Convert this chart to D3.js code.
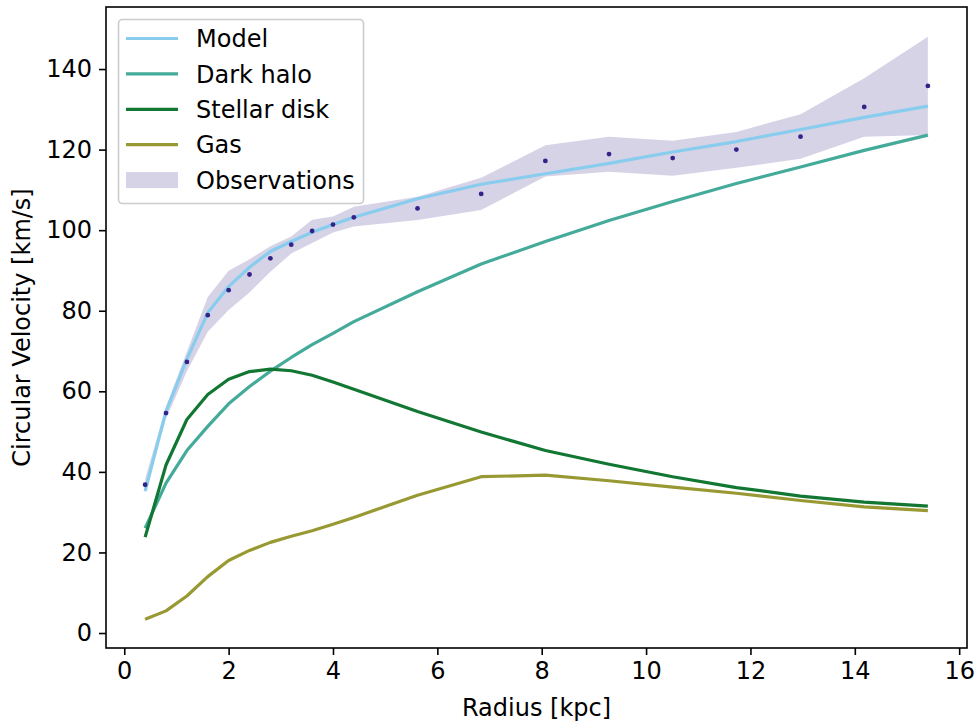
<!DOCTYPE html>
<html>
<head>
<meta charset="utf-8">
<script src="https://cdn.jsdelivr.net/npm/d3@7"></script>
<style>
  html, body { margin: 0; padding: 0; background: #fff; }
  svg { display: block; font-family: "DejaVu Sans", sans-serif; }
</style>
</head>
<body>
<svg id="chart" width="977" height="722"></svg>
<script>
// ---- data ----
const radius   = [0.4, 0.8, 1.2, 1.6, 2.0, 2.4, 2.8, 3.2, 3.6, 4.0, 4.4, 5.62, 6.84, 8.07, 9.29, 10.51, 11.73, 12.96, 14.18, 15.4];
const obsVel   = [36.8, 54.6, 67.3, 78.9, 85.1, 89.0, 93.0, 96.4, 99.8, 101.4, 103.2, 105.4, 109.0, 117.2, 118.9, 117.9, 120.0, 123.2, 130.6, 135.8];
const obsUpper = [38.3, 56.2, 69.8, 83.4, 89.9, 92.8, 96.0, 98.4, 102.6, 103.4, 105.8, 108.3, 113.0, 121.1, 123.2, 122.2, 124.4, 128.8, 137.7, 148.0];
const obsLower = [35.3, 53.2, 65.0, 74.8, 80.2, 84.5, 89.7, 94.2, 96.8, 99.4, 100.9, 102.5, 105.0, 113.3, 114.5, 113.5, 115.5, 117.7, 123.2, 123.6];
const modelVel = [35.2, 55.0, 68.0, 79.5, 86.0, 90.8, 94.7, 97.2, 99.5, 101.4, 103.2, 107.8, 111.4, 114.0, 116.6, 119.4, 122.0, 125.0, 128.0, 130.8];
const haloVel  = [26.0, 37.2, 45.3, 51.3, 56.9, 61.2, 65.0, 68.4, 71.6, 74.4, 77.3, 84.7, 91.6, 97.2, 102.4, 107.1, 111.6, 115.7, 119.8, 123.6];
const diskVel  = [23.8, 41.7, 53.0, 59.2, 63.0, 64.9, 65.5, 65.1, 64.0, 62.3, 60.5, 55.0, 49.9, 45.3, 41.9, 38.8, 36.1, 34.0, 32.5, 31.5];
const gasVel   = [3.4, 5.5, 9.2, 14.0, 18.0, 20.5, 22.5, 24.0, 25.4, 27.0, 28.7, 34.2, 38.8, 39.2, 37.8, 36.2, 34.7, 32.9, 31.3, 30.4];
const xTicks = [0, 2, 4, 6, 8, 10, 12, 14, 16];
const yTicks = [0, 20, 40, 60, 80, 100, 120, 140];
const seriesNames  = ["Model", "Dark halo", "Stellar disk", "Gas", "Observations"];
const seriesColors = ["#88CCEE", "#44AA99", "#117733", "#999933", "#332288"];

// ---- layout ----
const svg = d3.select("#chart");
const L = 106, R = 967, T = 7, B = 648;
const x = d3.scaleLinear().domain([-0.35, 16.15]).range([L, R]);
const y = d3.scaleLinear().domain([-3.72, 155.4]).range([B, T]);
const lw = 3.2;
const FS = "24px";

const rows = radius.map((r, i) => ({r, obs: obsVel[i], hi: obsUpper[i], lo: obsLower[i],
  model: modelVel[i], halo: haloVel[i], disk: diskVel[i], gas: gasVel[i]}));

const plot = svg.append("g");

// band
plot.append("path").datum(rows)
  .attr("d", d3.area().x(d => x(d.r)).y0(d => y(d.lo)).y1(d => y(d.hi)))
  .attr("fill", "#332288").attr("fill-opacity", 0.2);

// lines
[["halo", 1], ["disk", 2], ["gas", 3], ["model", 0]].forEach(([k, ci]) => {
  plot.append("path").datum(rows)
    .attr("d", d3.line().x(d => x(d.r)).y(d => y(d[k])))
    .attr("fill", "none").attr("stroke", seriesColors[ci])
    .attr("stroke-width", lw).attr("stroke-linejoin", "round");
});

// points
plot.selectAll("circle.obs").data(rows).enter().append("circle")
  .attr("cx", d => x(d.r)).attr("cy", d => y(d.obs)).attr("r", 2.4)
  .attr("fill", "#332288");

// axes
const xAxis = d3.axisBottom(x).tickValues(xTicks).tickSize(7).tickPadding(7).tickFormat(d3.format("d"));
const yAxis = d3.axisLeft(y).tickValues(yTicks).tickSize(7).tickPadding(7).tickFormat(d3.format("d"));
const gx = svg.append("g").attr("transform", `translate(0,${B})`).call(xAxis);
const gy = svg.append("g").attr("transform", `translate(${L},0)`).call(yAxis);
[gx, gy].forEach(g => {
  g.select(".domain").remove();
  g.selectAll(".tick line").attr("stroke", "#000").attr("stroke-width", 1.6);
  g.selectAll(".tick text").attr("fill", "#000").style("font-size", FS).style("font-family", "DejaVu Sans");
});
gx.selectAll(".tick text").attr("dy", "0.72em");

// frame
svg.append("rect").attr("x", L).attr("y", T).attr("width", R - L).attr("height", B - T)
  .attr("fill", "none").attr("stroke", "#000").attr("stroke-width", 1.6);

// axis labels
svg.append("text").attr("x", (L + R) / 2).attr("y", 716).attr("text-anchor", "middle")
  .style("font-size", FS).text("Radius [kpc]");
svg.append("text").attr("transform", `translate(30,${(T + B) / 2}) rotate(-90)`)
  .attr("text-anchor", "middle").style("font-size", FS).text("Circular Velocity [km/s]");

// legend
const lg = svg.append("g");
lg.append("rect").attr("x", 118.5).attr("y", 19.5).attr("width", 245).attr("height", 184)
  .attr("rx", 4).attr("fill", "#fff").attr("fill-opacity", 0.8)
  .attr("stroke", "#cccccc").attr("stroke-width", 1.6);
seriesNames.forEach((name, i) => {
  const cy = 38.5 + i * 35.4;
  if (i < 4) {
    lg.append("line").attr("x1", 126).attr("x2", 178).attr("y1", cy).attr("y2", cy)
      .attr("stroke", seriesColors[i]).attr("stroke-width", lw);
  } else {
    lg.append("rect").attr("x", 126).attr("y", cy - 8).attr("width", 52).attr("height", 16)
      .attr("fill", seriesColors[i]).attr("fill-opacity", 0.2);
  }
  lg.append("text").attr("x", 196).attr("y", cy).attr("dy", "0.36em")
    .style("font-size", FS).text(name);
});
</script>
</body>
</html>
